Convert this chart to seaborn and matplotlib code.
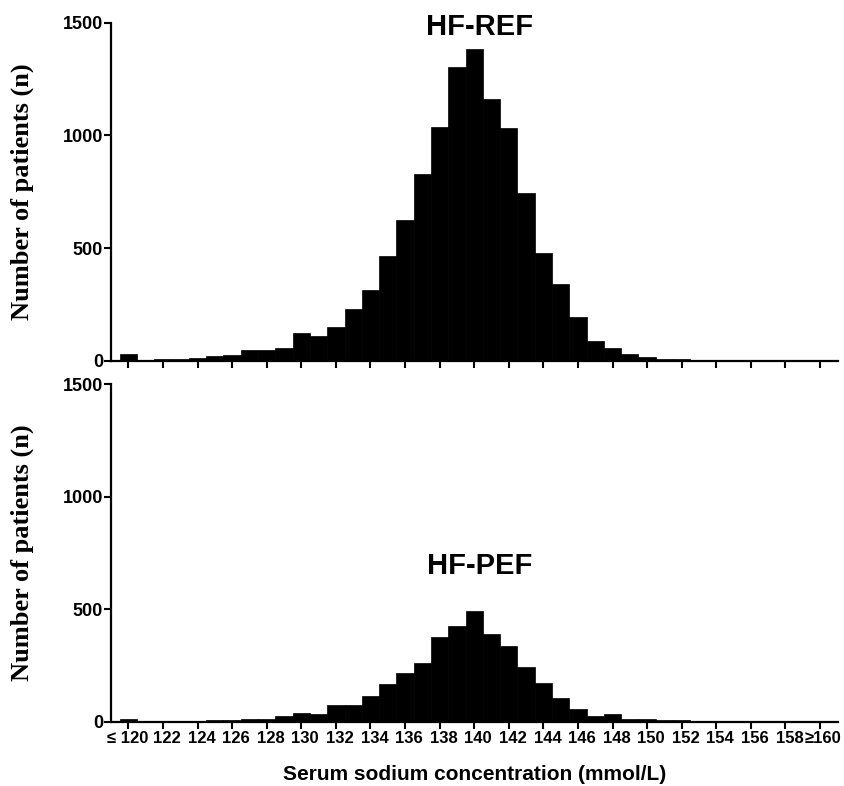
import numpy as np
import pandas as pd
import matplotlib
matplotlib.use("Agg")
import matplotlib.pyplot as plt
import matplotlib.transforms as mtrans
import seaborn as sns

# serum sodium bins (mmol/L), 120 means <=120 and 160 means >=160
sodium = list(range(120, 161))

# patients per bin
hf_ref = [28, 3, 9, 9, 13, 21, 27, 50, 46, 56,
          123, 112, 148, 229, 314, 467, 626, 830, 1037, 1303,
          1383, 1164, 1034, 746, 479, 340, 194, 89, 58, 30,
          18, 10, 6, 3, 2, 1, 1, 1, 1, 1, 1]
hf_pef = [12, 3, 3, 3, 1, 7, 9, 12, 12, 25,
          37, 34, 73, 73, 115, 167, 215, 260, 378, 424,
          490, 390, 337, 243, 173, 107, 58, 27, 33, 13,
          12, 7, 6, 4, 3, 2, 2, 1, 1, 1, 1]

tick_pos = list(range(120, 161, 2))
tick_lbl = ["\u2264 120"] + [str(v) for v in tick_pos[1:-1]] + ["\u2265160"]

sns.set_style("ticks")
plt.rcParams["font.family"] = ["Liberation Sans", "DejaVu Sans"]
plt.rcParams["font.weight"] = "bold"
for k in ["text.color", "axes.labelcolor", "xtick.color", "ytick.color"]:
    plt.rcParams[k] = "black"

fig = plt.figure(figsize=(8.45, 7.86), dpi=100)
ax1 = fig.add_axes([0.131, 0.541, 0.861, 0.430])
ax2 = fig.add_axes([0.131, 0.0818, 0.861, 0.4296])

df = pd.DataFrame({"sodium": sodium, "REF": hf_ref, "PEF": hf_pef})

for ax, col, title, ty in [(ax1, "REF", "HF-REF", 1480), (ax2, "PEF", "HF-PEF", 690)]:
    sns.histplot(data=df, x="sodium", weights=col, discrete=True,
                 color="black", edgecolor="black", linewidth=0.5,
                 alpha=1, ax=ax)
    ax.set_xlim(118.98, 161.05)
    ax.set_ylim(0, 1500)
    ax.set_yticks([0, 500, 1000, 1500])
    ax.set_xticks(tick_pos)
    for s in ["top", "right"]:
        ax.spines[s].set_visible(False)
    for s in ["left", "bottom"]:
        ax.spines[s].set_linewidth(1.6)
        ax.spines[s].set_color("black")
    ax.tick_params(axis="both", length=5, width=1.5, color="black", pad=1.5)
    ax.tick_params(axis="x", labelsize=12)
    ax.tick_params(axis="y", labelsize=13, pad=0.5)
    ax.set_ylabel("Number of patients (n)", family="Liberation Serif",
                  fontweight="bold", fontsize=19)
    ax.yaxis.set_label_coords(-0.105, 0.5)
    ax.text(140.3, ty, title, ha="center", va="center",
            fontsize=21, fontweight="bold")
    ax.set_xlabel("")

ax1.set_xticklabels([])
ax2.set_xticklabels(tick_lbl)

# the printed labels sit a little right of their ticks
labels = ax2.get_xticklabels()
for i, lab in enumerate(labels):
    if i == 0:
        dx = 20
        lab.set_horizontalalignment("right")
    elif i == len(labels) - 1:
        dx = 3
    else:
        dx = 4
    lab.set_transform(lab.get_transform() +
                      mtrans.ScaledTranslation(dx / 100, 0, fig.dpi_scale_trans))

ax2.set_xlabel("Serum sodium concentration (mmol/L)", fontsize=15,
               fontweight="bold")
ax2.xaxis.set_label_coords(0.5, -0.128)

fig.savefig("out.png", dpi=100)
